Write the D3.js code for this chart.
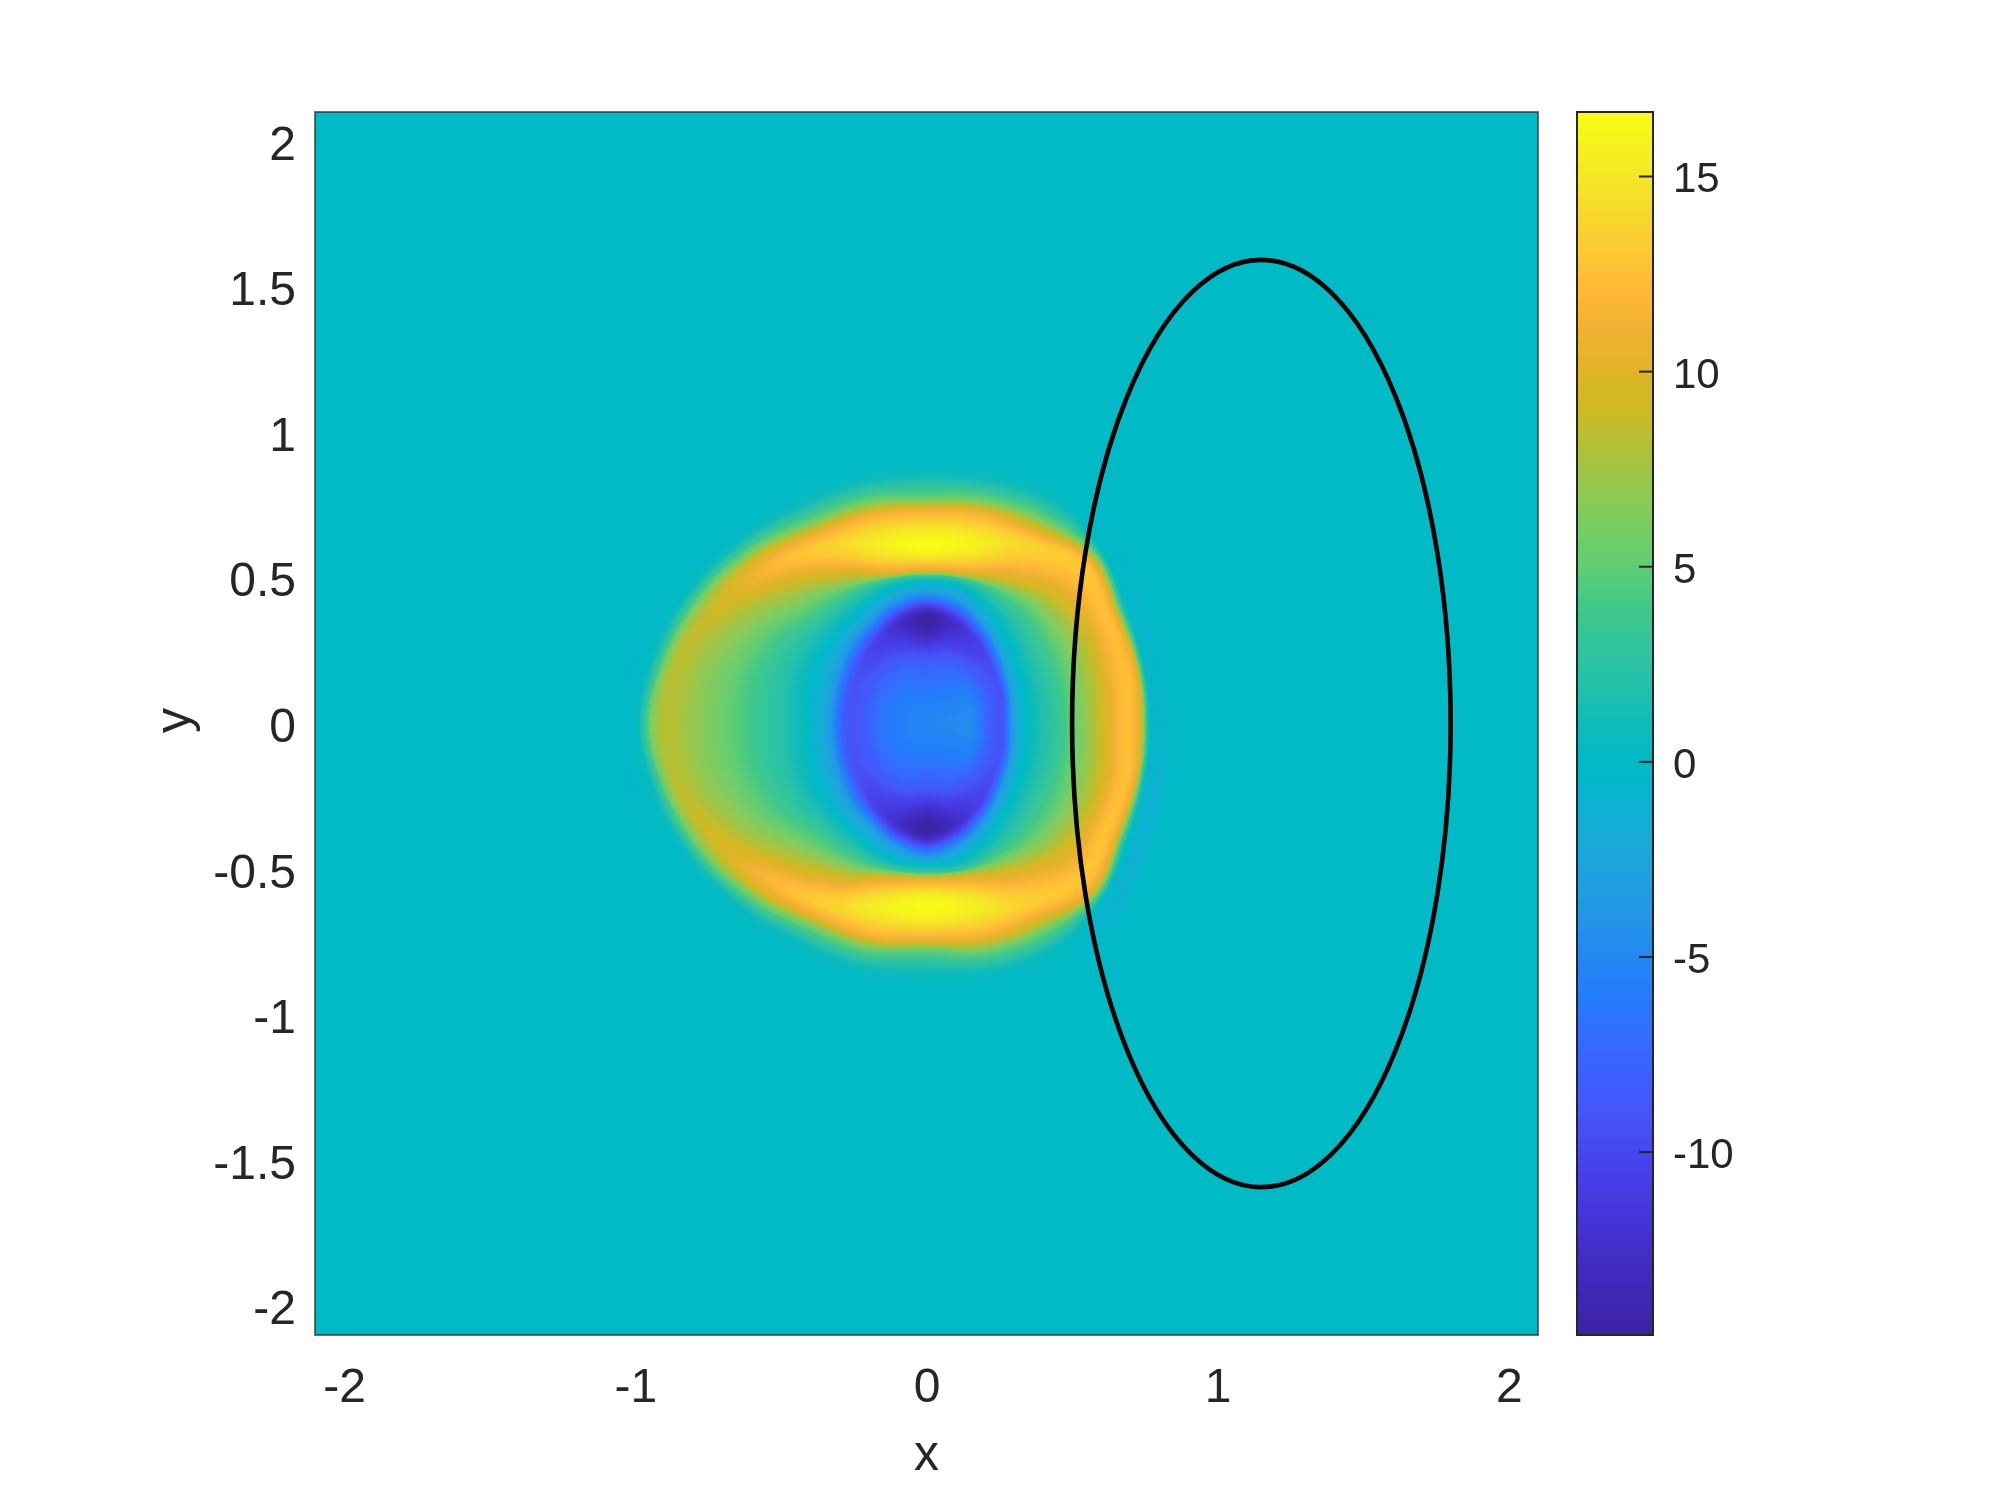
<!DOCTYPE html>
<html><head><meta charset="utf-8">
<style>
html,body{margin:0;padding:0;background:#fff}
#wrap{position:relative;width:2000px;height:1500px;overflow:hidden}
canvas,svg{position:absolute;left:0;top:0}
text{font-family:"Liberation Sans",Arial,sans-serif;fill:#262626}
</style>
<script src="https://cdnjs.cloudflare.com/ajax/libs/d3/7.8.5/d3.min.js"></script>
</head><body><div id="wrap"></div>
<script>
// ---- axis data
const xTicks=[-2,-1,0,1,2];
const yTicks=[-2,-1.5,-1,-0.5,0,0.5,1,1.5,2];
const cTicks=[-10,-5,0,5,10,15];
const xDomain=[-2.1,2.1], yDomain=[-2.1,2.1], cDomain=[-14.7,16.64];
const ellipseCurve={cx:1.15,cy:0,rx:0.65,ry:1.592};
// ---- colour bar stops
const cmValues=[-14.7,-14,-13,-12,-11,-10,-9,-8,-7,-6,-5,-4,-3,-2,-1,0,1,2,3,4,5,6,7,8,9,10,11,12,13,14,15,16.64];
const cmColors=["#3c23a0","#3e26af","#412abe","#4432d2","#463ce4","#4646f0","#4655fa","#3c5fff","#326eff","#237dfa","#2387f2","#2396e8","#1ea0e1","#19aad7","#0ab2d0","#00bac6","#0fbbb9","#26c0aa","#32c59b","#41c887","#5fcd73","#78cd64","#94c850","#afc137","#cdba24","#e0b426","#eeb232","#ffb737","#fdc832","#f8d62c","#f4e826","#f9fb14"];
// ---- field read along rays from the origin: one row per ray, 15 degree steps,
// matching features along each ray: trough, zero crossing, ridge, outer edge
const rayAngles=[0,15,30,45,60,75,90,105,120,135,150,165,180,195,210,225,240,255,270,285,300,315,330,345];
const ringRadii=[
[0,.14,.25,.30,.345,.46,.60,.69,.735,.75,.768,.80,.86],
[0,.145,.264,.306,.351,.462,.61,.705,.745,.757,.775,.805,.865],
[0,.155,.278,.324,.368,.485,.628,.718,.752,.77,.795,.825,.885],
[0,.165,.30,.355,.398,.515,.635,.76,.80,.822,.85,.89,.95],
[0,.18,.327,.398,.44,.505,.58,.705,.765,.815,.90,.94,1.0],
[0,.195,.354,.44,.482,.508,.533,.635,.74,.80,.885,.93,1.0],
[0,.2,.36,.45,.485,.505,.525,.61,.725,.78,.875,.92,1.0],
[0,.195,.352,.44,.48,.508,.533,.635,.735,.795,.878,.93,1.0],
[0,.18,.325,.405,.455,.515,.60,.695,.75,.805,.888,.94,1.0],
[0,.165,.30,.385,.44,.55,.675,.755,.805,.85,.91,.96,1.02],
[0,.155,.28,.36,.43,.585,.73,.82,.865,.895,.94,.99,1.05],
[0,.15,.268,.345,.415,.595,.785,.88,.912,.94,.975,1.03,1.09],
[0,.145,.262,.335,.40,.60,.80,.895,.94,.97,.995,1.03,1.09],
[0,.15,.268,.345,.415,.595,.785,.88,.912,.94,.975,1.03,1.09],
[0,.155,.28,.36,.43,.585,.73,.82,.865,.895,.94,.99,1.05],
[0,.165,.30,.383,.44,.55,.675,.757,.805,.85,.91,.96,1.02],
[0,.18,.33,.405,.455,.525,.62,.71,.76,.81,.888,.94,1.0],
[0,.195,.357,.44,.48,.51,.55,.65,.75,.805,.885,.93,1.0],
[0,.2,.365,.455,.485,.51,.535,.625,.735,.782,.875,.92,1.0],
[0,.195,.358,.44,.482,.512,.545,.65,.75,.815,.895,.94,1.0],
[0,.18,.33,.398,.44,.504,.595,.71,.775,.825,.905,.95,1.0],
[0,.165,.30,.355,.398,.515,.655,.755,.81,.83,.855,.90,.96],
[0,.155,.278,.326,.37,.49,.635,.72,.758,.775,.80,.84,.90],
[0,.145,.264,.308,.352,.465,.62,.708,.745,.758,.776,.81,.87]
];
const ringValues=[
[-5.2,-4.6,-9.2,-3,0,3.5,9,12.5,10,5,.3,-.5,0],
[-5.2,-4.8,-9.2,-3,0,3.5,9,12.5,10,5,.3,-.5,0],
[-5.2,-5.3,-9.3,-3,0,4,9,12.5,10,5,.3,-.4,0],
[-5.2,-6,-9.8,-3,0,4.5,9.8,13,10,5,.3,-.2,0],
[-5.2,-6.8,-11,-3,0,3.5,10,13.8,10,5,.3,0,0],
[-5.2,-7.5,-12.5,-3,0,3,10,15.7,11.5,5,.4,0,0],
[-5.2,-8,-14.7,-3.5,0,3,10,16.64,11.5,5,.4,0,0],
[-5.2,-7.5,-12.5,-3,0,3,10,15.5,11.5,5,.4,0,0],
[-5.2,-7,-10.8,-3,0,3.5,10,13.5,11,5,.3,0,0],
[-5.2,-6.8,-9.8,-3,0,4.5,9,11.8,10,5,.3,0,0],
[-5.2,-6.5,-9.3,-3,0,4,7.5,9.2,7.5,4.5,.3,-.1,0],
[-5.2,-6.5,-9.3,-3,0,3.7,7,8.4,6.5,3,.3,-.2,0],
[-5.2,-6.5,-9.3,-3.5,0,3.8,7,8.3,6.5,3,.3,-.2,0],
[-5.2,-6.5,-9.3,-3,0,3.7,7,8.4,6.5,3,.3,-.2,0],
[-5.2,-6.5,-9.3,-3,0,4,7.5,9.5,7.5,4.5,.3,0,0],
[-5.2,-6.8,-9.8,-3,0,4.5,9,11.8,10,5,.3,0,0],
[-5.2,-7,-10.8,-3,0,4,10,13.5,11,5,.3,0,0],
[-5.2,-7.5,-12.5,-3,0,3,10,15.5,11.5,5,.4,0,0],
[-5.2,-8,-14.7,-4,0,3.5,10.5,16.64,11.5,5,.4,0,0],
[-5.2,-7.5,-12.8,-3,0,3,10,15.5,11.5,5,.4,0,0],
[-5.2,-6.8,-11,-3,0,3.5,10,13.5,10,5,.3,0,0],
[-5.2,-6,-9.8,-3,0,4.5,10,12.8,10,5,.3,-1,0],
[-5.2,-5.3,-9.3,-3,0,4,9,12.7,10,5,.3,-1.3,0],
[-5.2,-4.8,-9.2,-3,0,3.5,9,12.5,10,5,.3,-1.2,0]
];

// ---- layout
const plot={left:315,right:1538,top:112,bottom:1335};
const bar={left:1577,right:1653,top:112,bottom:1335};
const x=d3.scaleLinear().domain(xDomain).range([plot.left,plot.right]);
const y=d3.scaleLinear().domain(yDomain).range([plot.bottom,plot.top]);
const cy=d3.scaleLinear().domain(cDomain).range([bar.bottom,bar.top]);
const color=d3.scaleLinear().domain(cmValues).range(cmColors).interpolate(d3.interpolateRgb).clamp(true);

const wrap=d3.select("#wrap");
const cv=wrap.append("canvas").attr("width",2000).attr("height",1500).node();
const ctx=cv.getContext("2d");
ctx.fillStyle="#fff";ctx.fillRect(0,0,2000,1500);

// ---- expand rays to a dense polar table
const nRay=rayAngles.length,nK=ringRadii[0].length;
const TAU=0.85;
const cr=(a,b,c,d,t)=>{
  const m0=TAU*(c-a)/2,m1=TAU*(d-b)/2,t2=t*t,t3=t2*t;
  return (2*t3-3*t2+1)*b+(t3-2*t2+t)*m0+(-2*t3+3*t2)*c+(t3-t2)*m1;
};
const NA=720,DR=0.002,RMAX=1.3,NR=Math.round(RMAX/DR)+1;
const table=new Float32Array(NA*NR);
for(let a=0;a<NA;a++){
  const f=a/NA*nRay,j=Math.floor(f),t=f-j;
  const idx=k=>(j+k+nRay)%nRay;
  const rs=new Array(nK),vs=new Array(nK);
  for(let k=0;k<nK;k++){
    rs[k]=cr(ringRadii[idx(-1)][k],ringRadii[idx(0)][k],ringRadii[idx(1)][k],ringRadii[idx(2)][k],t);
    vs[k]=cr(ringValues[idx(-1)][k],ringValues[idx(0)][k],ringValues[idx(1)][k],ringValues[idx(2)][k],t);
    if(k>0&&rs[k]<=rs[k-1]+1e-3)rs[k]=rs[k-1]+1e-3;
  }
  const sec=[];for(let k=0;k<nK-1;k++)sec.push((vs[k+1]-vs[k])/(rs[k+1]-rs[k]));
  const m=new Array(nK).fill(0);
  for(let k=1;k<nK-1;k++){
    const p=sec[k-1],q=sec[k];
    m[k]=p*q<=0?0:2*p*q/(p+q);
  }
  let k=0;
  for(let i=0;i<NR;i++){
    const r=i*DR;
    if(r>=rs[nK-1]){table[a*NR+i]=0;continue;}
    while(k<nK-2&&r>rs[k+1])k++;
    const h=rs[k+1]-rs[k],s=(r-rs[k])/h,s2=s*s,s3=s2*s;
    table[a*NR+i]=(2*s3-3*s2+1)*vs[k]+(s3-2*s2+s)*h*m[k]+(-2*s3+3*s2)*vs[k+1]+(s3-s2)*h*m[k+1];
  }
}
function field(px,py){
  const r=Math.hypot(px,py);
  if(r>=RMAX-DR)return 0;
  let th=Math.atan2(py,px);if(th<0)th+=2*Math.PI;
  const fa=th/(2*Math.PI)*NA,a0=Math.floor(fa)%NA,a1=(a0+1)%NA,ta=fa-Math.floor(fa);
  const fr=r/DR,r0=Math.floor(fr),tr=fr-r0;
  const v0=table[a0*NR+r0]*(1-tr)+table[a0*NR+r0+1]*tr;
  const v1=table[a1*NR+r0]*(1-tr)+table[a1*NR+r0+1]*tr;
  return v0*(1-ta)+v1*ta;
}
// ---- heat map
const W=plot.right-plot.left,H=plot.bottom-plot.top;
const img=ctx.createImageData(W,H);
const lut=new Uint8Array(3*2048);
for(let i=0;i<2048;i++){
  const c=d3.rgb(color(cDomain[0]+(cDomain[1]-cDomain[0])*i/2047));
  lut[3*i]=c.r;lut[3*i+1]=c.g;lut[3*i+2]=c.b;
}
for(let j=0;j<H;j++){
  const py=y.invert(plot.top+j+0.5);
  for(let i=0;i<W;i++){
    const px=x.invert(plot.left+i+0.5);
    const v=field(px,py);
    let q=Math.round((v-cDomain[0])/(cDomain[1]-cDomain[0])*2047);
    q=q<0?0:q>2047?2047:q;
    const o=4*(j*W+i);
    img.data[o]=lut[3*q];img.data[o+1]=lut[3*q+1];img.data[o+2]=lut[3*q+2];img.data[o+3]=255;
  }
}
ctx.putImageData(img,plot.left,plot.top);
// ---- colour bar
for(let j=bar.top;j<bar.bottom;j++){
  ctx.fillStyle=color(cy.invert(j+0.5));
  ctx.fillRect(bar.left,j,bar.right-bar.left,1);
}
// ---- vector overlay
const svg=wrap.append("svg").attr("width",2000).attr("height",1500);
svg.append("ellipse")
  .attr("cx",x(ellipseCurve.cx)).attr("cy",y(ellipseCurve.cy))
  .attr("rx",x(ellipseCurve.rx)-x(0)).attr("ry",y(0)-y(ellipseCurve.ry))
  .attr("fill","none").attr("stroke","#000").attr("stroke-width",4.6);
svg.append("rect").attr("x",plot.left).attr("y",plot.top).attr("width",W).attr("height",H)
  .attr("fill","none").attr("stroke","#262626").attr("stroke-opacity",.65).attr("stroke-width",2);
const fmt=d=>String(d);
const gx=svg.append("g").attr("transform",`translate(0,${plot.bottom})`)
  .call(d3.axisBottom(x).tickValues(xTicks).tickSize(0).tickFormat(fmt));
gx.select(".domain").remove();
gx.selectAll("text").attr("y",67).attr("dy",0).style("font-size","48px").attr("text-anchor","middle");
const gy=svg.append("g").attr("transform",`translate(${plot.left},0)`)
  .call(d3.axisLeft(y).tickValues(yTicks).tickSize(0).tickFormat(fmt));
gy.select(".domain").remove();
gy.selectAll("text").attr("x",-19).attr("dy",18).style("font-size","48px").attr("text-anchor","end");
svg.selectAll(".tick line").remove();
svg.append("text").attr("x",x(0)).attr("y",1470).attr("text-anchor","middle").style("font-size","50px").text("x");
svg.append("text").attr("transform",`translate(190,${y(0)-3}) rotate(-90)`).attr("text-anchor","middle").style("font-size","50px").text("y");
// colour bar frame and ticks
svg.append("rect").attr("x",bar.left).attr("y",bar.top).attr("width",bar.right-bar.left).attr("height",bar.bottom-bar.top)
  .attr("fill","none").attr("stroke","#262626").attr("stroke-width",2);
const gc=svg.append("g").attr("transform",`translate(${bar.right},0)`)
  .call(d3.axisRight(cy).tickValues(cTicks).tickSize(0).tickFormat(fmt));
gc.select(".domain").remove();
gc.selectAll("text").attr("x",20).attr("dy",16).style("font-size","42px").attr("text-anchor","start");
gc.selectAll(".tick").append("line").attr("x1",-14).attr("x2",0).attr("stroke","#262626").attr("stroke-width",2);
</script></body></html>
